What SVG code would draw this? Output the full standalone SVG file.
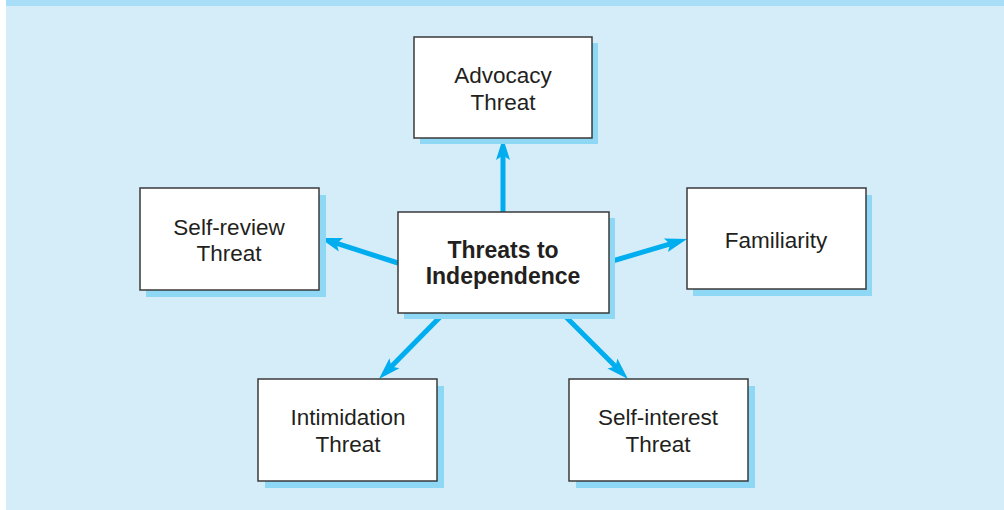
<svg xmlns="http://www.w3.org/2000/svg" width="1004" height="510" viewBox="0 0 1004 510">
<defs>
<style>
.shadow{fill:#8ED8F6}
.box{fill:#FFFFFF;stroke:#3A3A3A;stroke-width:1.5}
.t{font-family:"Liberation Sans",Arial,sans-serif;font-size:22.5px;fill:#231F20;text-anchor:middle}
.b{font-weight:bold;font-size:23px}
.c{stroke:#00AEEF;stroke-width:5;fill:none;marker-end:url(#ah)}
</style>
<marker id="ah" markerWidth="4.6" markerHeight="2.8" refX="2" refY="1.4" orient="auto" markerUnits="strokeWidth" overflow="visible">
<path d="M0,0 L4.4,1.4 L0,2.8 L0.9,1.4 Z" fill="#00AEEF"/>
</marker>
</defs>
<rect x="0" y="0" width="1004" height="510" fill="#FFFFFF"/>
<rect x="6" y="0" width="998" height="510" fill="#D5ECF9"/>
<rect x="6" y="0" width="998" height="6" fill="#A9DEF8"/>
<g id="connectors">
<line class="c" x1="503" y1="212" x2="503" y2="150"/>
<line class="c" x1="398" y1="263" x2="331.4" y2="241.7"/>
<line class="c" x1="609" y1="262" x2="675.5" y2="242.4"/>
<line class="c" x1="444" y1="313" x2="387.4" y2="370.4"/>
<line class="c" x1="562" y1="313" x2="619.5" y2="370.5"/>
</g>
<g id="advocacy">
<rect class="shadow" x="420" y="43" width="178" height="101"/>
<rect class="box" x="414" y="37" width="178" height="101"/>
<text class="t" x="503" y="83">Advocacy</text>
<text class="t" x="503" y="110">Threat</text>
</g>
<g id="center">
<rect class="shadow" x="404" y="218" width="211" height="101"/>
<rect class="box" x="398" y="212" width="211" height="101"/>
<text class="t b" x="503" y="258">Threats to</text>
<text class="t b" x="503" y="284">Independence</text>
</g>
<g id="selfreview">
<rect class="shadow" x="146" y="195" width="180" height="102"/>
<rect class="box" x="140" y="188" width="179" height="102"/>
<text class="t" x="229" y="235">Self-review</text>
<text class="t" x="229" y="261">Threat</text>
</g>
<g id="familiarity">
<rect class="shadow" x="693" y="195" width="179" height="101"/>
<rect class="box" x="687" y="188" width="179" height="101"/>
<text class="t" x="776" y="248">Familiarity</text>
</g>
<g id="intimidation">
<rect class="shadow" x="265" y="386" width="179" height="102"/>
<rect class="box" x="258" y="379" width="179" height="102"/>
<text class="t" x="348" y="425">Intimidation</text>
<text class="t" x="348" y="452">Threat</text>
</g>
<g id="selfinterest">
<rect class="shadow" x="576" y="386" width="179" height="102"/>
<rect class="box" x="569" y="379" width="179" height="102"/>
<text class="t" x="658" y="425">Self-interest</text>
<text class="t" x="658" y="452">Threat</text>
</g>
</svg>
